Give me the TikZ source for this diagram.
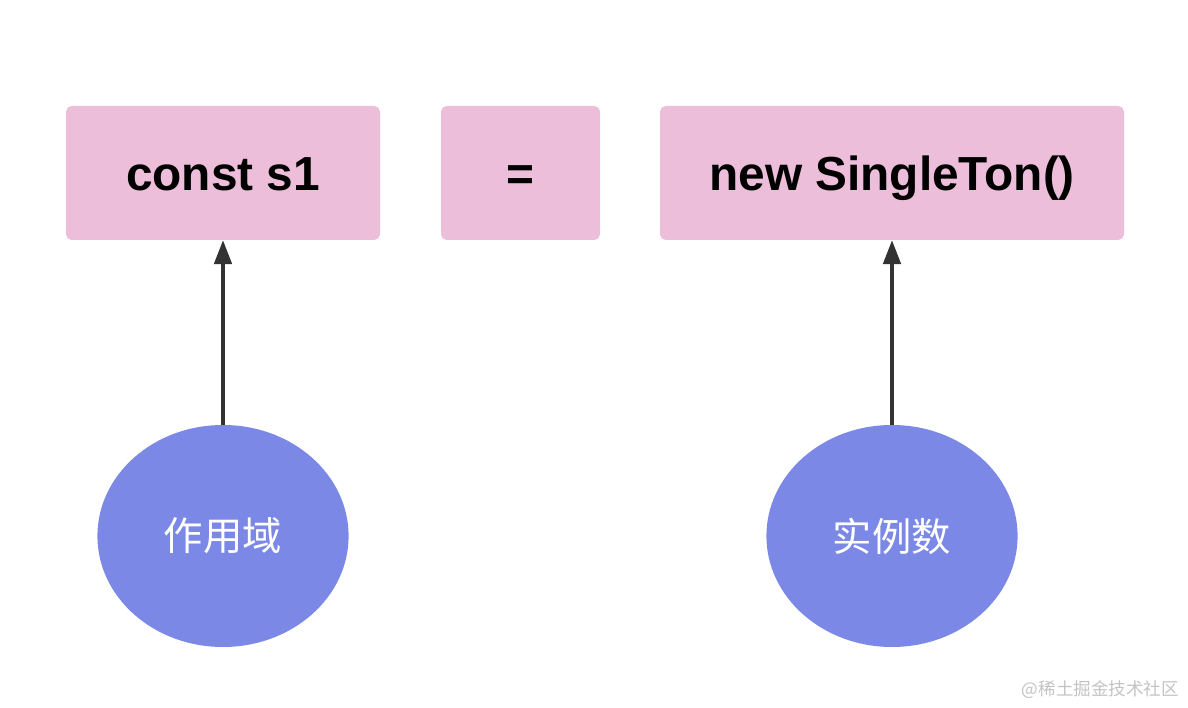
\documentclass[tikz,border=0pt]{standalone}
\definecolor{codePink}{RGB}{236,190,217}
\definecolor{noteBlue}{RGB}{123,136,230}
\definecolor{arrowGray}{RGB}{51,51,51}
\definecolor{markGray}{RGB}{195,195,195}
\usepackage{fontspec}
\setmainfont{Liberation Sans}
\newfontfamily\cjk{Noto Sans CJK SC}
\usepackage{tikz}
\usetikzlibrary{arrows.meta,positioning,shapes.geometric}

\begin{document}
\begin{tikzpicture}[
    part/.style={rectangle, rounded corners=4pt, minimum height=3.35cm, fill=codePink,
                 inner sep=0pt, text height=24.5pt, text depth=0pt,
                 font=\fontsize{34}{40}\selectfont\bfseries, align=center},
    role/.style={ellipse, minimum width=6.28cm, minimum height=5.55cm, inner sep=0pt,
                 fill=noteBlue, text=white, font=\cjk\fontsize{28}{34}\selectfont},
    link/.style={draw=arrowGray, line width=2.3pt, -{Triangle[length=17pt,width=12.5pt]}}
  ]
  \useasboundingbox (0,0) rectangle (29.7,17.7);

  \node[part, minimum width=7.85cm]  (decl) at ( 5.575,13.375) {const s1};
  \node[part, minimum width=3.975cm] (eq)   at (13.0125,13.375) {=};
  \node[part, minimum width=11.6cm]  (inst) at (22.3,13.375)   {new SingleTon()};

  \node[role] (scope) at ( 5.575,4.3) {作用域};
  \node[role] (count) at (22.3,4.3)   {实例数};

  \draw[link] (scope) -- (decl);
  \draw[link] (count) -- (inst);

  \node[text=markGray, font=\cjk\fontsize{12.5}{15}\selectfont, anchor=east] (mark)
    at (29.6,0.45) {@稀土掘金技术社区};
\end{tikzpicture}
\end{document}
